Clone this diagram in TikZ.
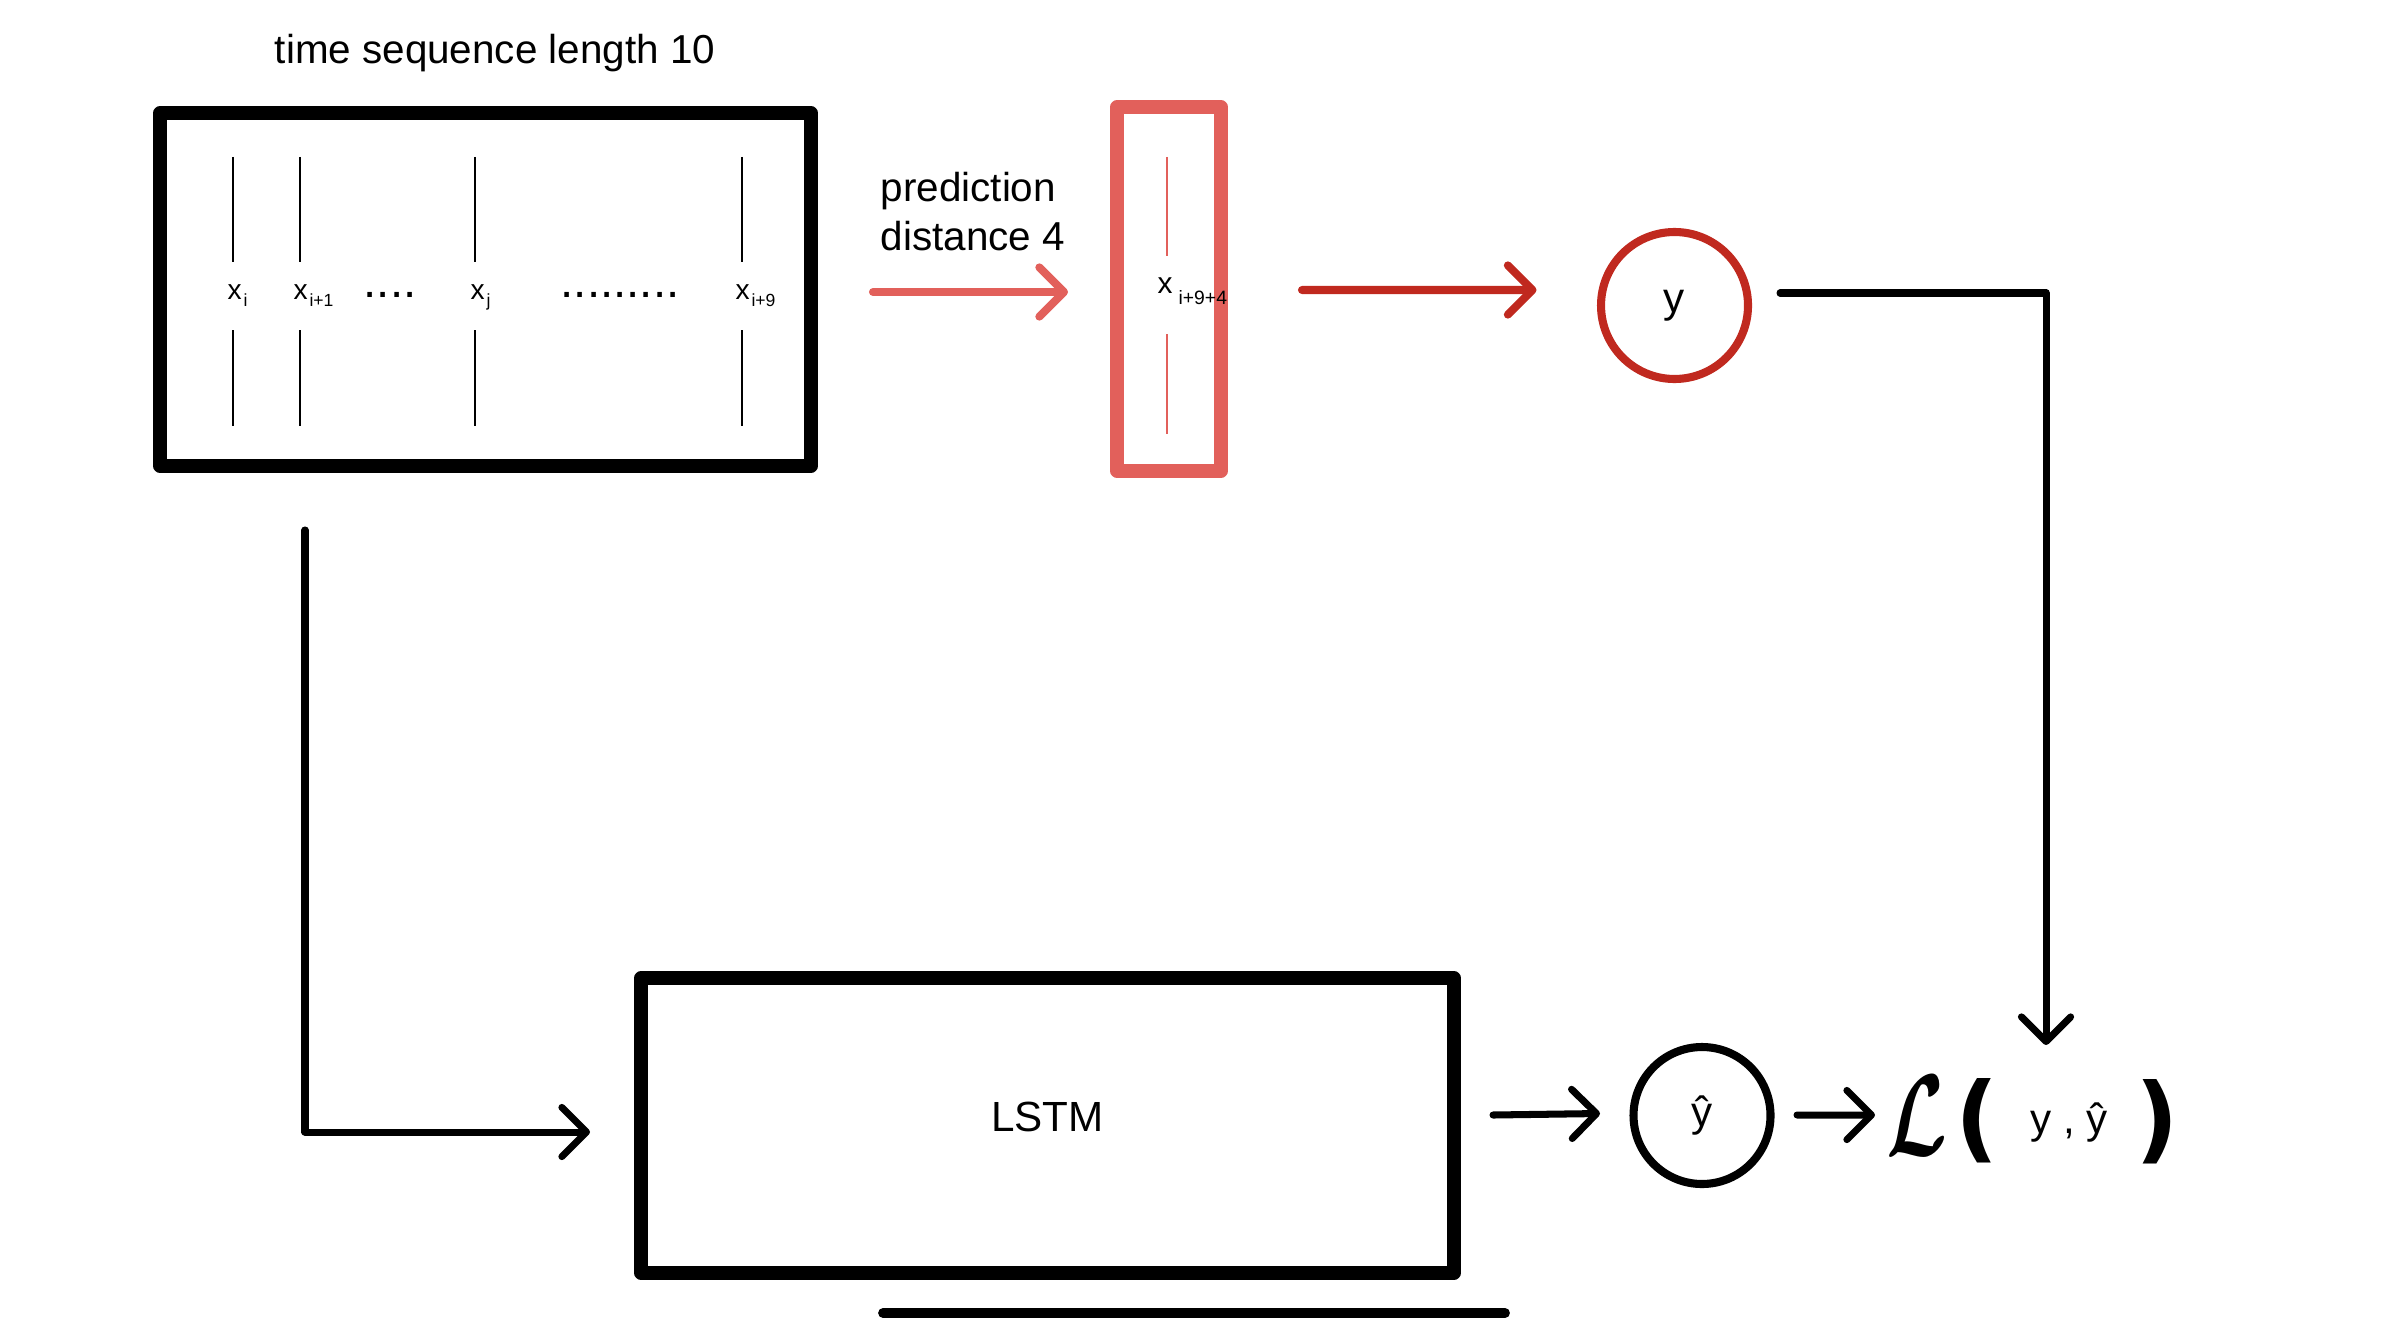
\documentclass[tikz,border=0pt]{standalone}
\usepackage{fontspec}
\usepackage{amsmath}
\setmainfont{Liberation Sans}
\newfontfamily\parenfont{DejaVu Sans}
\usetikzlibrary{arrows.meta,calc}

\definecolor{predred}{HTML}{E2605B}
\definecolor{darkred}{HTML}{C0291F}

\newcommand{\seqx}[1]{x\hspace{0.5pt}\raisebox{-2pt}{\fontsize{5}{6}\selectfont #1}}

\begin{document}
\begin{tikzpicture}[
    heavybox/.style={draw, rectangle, line width=3.8pt, line join=round, inner sep=0pt, outer sep=0pt},
    tick/.style={line width=0.8pt},
    seqlabel/.style={anchor=base west, inner sep=0pt, font=\fontsize{8}{9}\selectfont},
    dotrow/.style={anchor=base west, inner sep=0pt, font=\fontsize{13.5}{15}\selectfont},
    ring/.style={circle, draw, line width=2.3pt, inner sep=0pt, outer sep=0pt, font=\fontsize{12}{14}\selectfont},
    flow/.style={line width=2pt, line cap=round, line join=round, -{Straight Barb[length=7pt,width=14pt,round]}}]

    \useasboundingbox (0,0) rectangle (23.88,-13.34);

    % Input window
    \node[anchor=base, font=\fontsize{11.5}{14}\selectfont] (title) at (4.95,-0.64) {time sequence length 10};
    \node[heavybox, minimum width=6.51cm, minimum height=3.53cm] (seq) at (4.855,-2.895) {};
    \foreach \x in {2.33,3.00,4.75,7.42} {
        \draw[tick] (\x,-1.57) -- (\x,-2.62);
        \draw[tick] (\x,-3.30) -- (\x,-4.26);
    }
    \node[seqlabel] (xi) at (2.27,-2.99) {\seqx{i}};
    \node[seqlabel] (xinext) at (2.93,-2.99) {\seqx{i+1}};
    \node[dotrow] (dotsa) at (3.63,-2.97) {....};
    \node[seqlabel] (xj) at (4.70,-2.99) {\seqx{j}};
    \node[dotrow] (dotsb) at (5.60,-2.97) {.........};
    \node[seqlabel] (xlast) at (7.35,-2.99) {\seqx{i+9}};

    % Target step
    \node[anchor=north west, align=left, inner sep=0pt, font=\fontsize{11.5}{13.9}\selectfont] (pred) at (8.80,-1.72) {prediction\\distance 4};
    \node[heavybox, draw=predred, minimum width=1.04cm, minimum height=3.64cm] (target) at (11.69,-2.89) {};
    \draw[predred, line width=0.6pt] (11.67,-1.57) -- (11.67,-2.56);
    \draw[predred, line width=0.6pt] (11.67,-3.34) -- (11.67,-4.34);
    \node[anchor=base west, inner sep=0pt, font=\fontsize{8.5}{10}\selectfont] (xtarget) at (11.57,-2.93)
        {x\hspace{1.7pt}\raisebox{-3.4pt}{\fontsize{5.5}{6}\selectfont i+9+4}};
    \draw[flow, predred, line width=2.3pt] ($(target.west)+(-2.44,-0.03)$) -- ($(target.west)+(-0.49,-0.03)$);

    % Label y
    \node[ring, draw=darkred, minimum size=1.47cm] (ynode) at (16.745,-3.055) {y};
    \draw[flow, darkred, line width=2.3pt] ($(target.east)+(0.81,-0.01)$) -- ($(ynode.west)+(-0.645,0.155)$);

    % Model
    \node[heavybox, minimum width=8.13cm, minimum height=2.95cm] (lstm) at (10.475,-11.255) {};
    \node[font=\fontsize{12}{14}\selectfont] (lstmname) at ($(lstm.center)+(0,0.09)$) {LSTM};
    \draw[line width=2.8pt, line cap=round] ($(lstm.south)+(-1.645,-0.40)$) -- ($(lstm.south)+(4.575,-0.40)$);
    \draw[flow] ($(seq.south west)+(1.45,-0.64)$) |- ($(lstm.west)+(-0.51,-0.065)$);

    % Output and loss
    \node[ring, minimum size=1.37cm] (yhat) at (17.02,-11.155) {ŷ};
    \draw[flow] ($(lstm.east)+(0.39,0.105)$) -- ($(yhat.west)+(-0.335,0.02)$);
    \node[inner sep=0pt, xscale=2.2, yscale=3.3] (lossL) at (19.17,-11.16) {$\boldsymbol{\mathcal{L}}$};
    \node[inner sep=0pt, font=\parenfont\bfseries\fontsize{27}{30}\selectfont] (lparen) at (19.77,-11.21) {(};
    \node[anchor=base, font=\fontsize{12}{14}\selectfont] (lossargs) at (20.69,-11.33) {y , ŷ};
    \node[inner sep=0pt, font=\parenfont\bfseries\fontsize{27}{30}\selectfont] (rparen) at (21.57,-11.22) {)};
    \draw[flow] ($(yhat.east)+(0.265,0.005)$) -- ($(lossL.west)+(-0.1,0.01)$);
    \coordinate (lossin) at (20.46,-10.45);
    \draw[flow] ($(ynode.east)+(0.32,0.125)$) -| (lossin);
\end{tikzpicture}
\end{document}
